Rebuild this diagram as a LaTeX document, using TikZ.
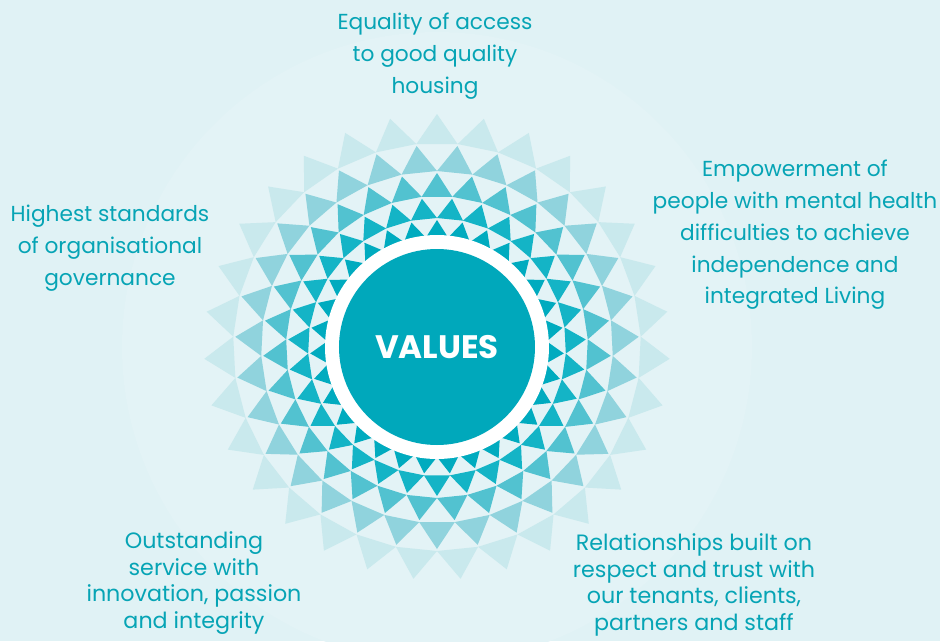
\documentclass[tikz,border=0pt]{standalone}
\usepackage{fontspec}
\setmainfont{Poppins}
\usepackage{tikz}
\definecolor{bgblue}{HTML}{E0F2F5}
\definecolor{halo}{HTML}{E3F3F6}
\definecolor{ringa}{HTML}{C9E9ED}
\definecolor{ringb}{HTML}{90D3DD}
\definecolor{ringc}{HTML}{52C2D0}
\definecolor{ringd}{HTML}{14B4C6}
\definecolor{ringe}{HTML}{00ABBF}
\definecolor{core}{HTML}{00A8BB}
\definecolor{valtext}{HTML}{06A4B5}
\tikzset{
  value/.style={align=center, text=valtext, font=\fontsize{21.7}{31.7}\selectfont},
  lowvalue/.style={value, font=\fontsize{22.2}{26.7}\selectfont}
}

\begin{document}
\begin{tikzpicture}[x=1pt,y=1pt]
        \fill[bgblue] (-437,-294) rectangle (503,347);
        \useasboundingbox (-437,-294) rectangle (503,347);
        \fill[halo] (0,0) circle (315);
        \foreach \r/\s/\c/\o in {233/204/ringa/0, 202/176/ringb/0.5, 174/151/ringc/0, 149/129/ringd/0.5, 127/110/ringe/0, 108/95/ringe/0.5}
          \foreach \i in {0,...,30}
            \fill[\c] ({90+(\i+\o)*360/31}:\r) -- ({90+(\i+\o-0.5)*360/31}:\s) -- ({90+(\i+\o+0.5)*360/31}:\s) -- cycle;
        \fill[white] (0,0) circle (112);
        \node[circle, fill=core, minimum size=196, text=white, font=\fontsize{32.5}{36}\selectfont\bfseries] (core) at (0,0) {VALUES};
        \node[value] (access) at (-2,291) {Equality of access\\to good quality\\housing};
        \node[value] (empower) at (358,112) {Empowerment of\\people with mental health\\difficulties to achieve\\independence and\\integrated Living};
        \node[value] (governance) at (-327,99) {Highest standards\\of organisational\\governance};
        \node[lowvalue] (service) at (-243,-236) {Outstanding\\service with\\innovation, passion\\and integrity};
        \node[lowvalue] (respect) at (257,-238) {Relationships built on\\respect and trust with\\our tenants, clients,\\partners and staff};
\end{tikzpicture}
\end{document}
